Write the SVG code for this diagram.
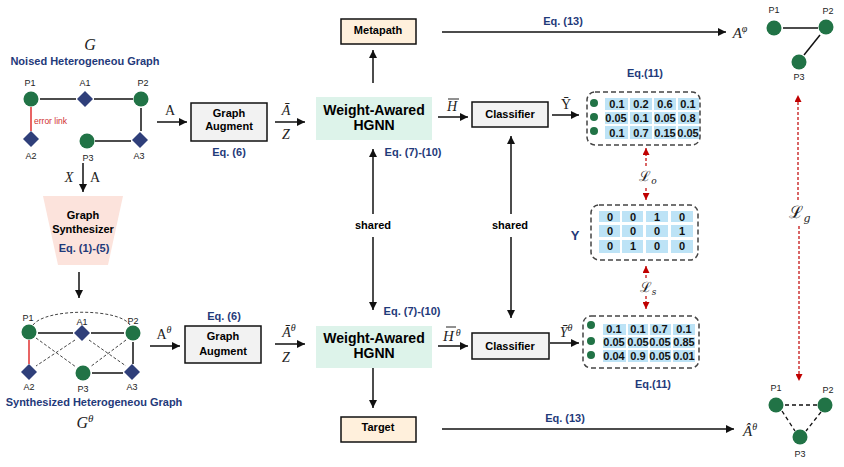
<svg xmlns="http://www.w3.org/2000/svg" width="844" height="467" viewBox="0 0 844 467">
<style>
.t{font-family:"Liberation Sans",Arial,sans-serif;font-weight:bold;fill:#000;text-anchor:middle}
.b{font-family:"Liberation Sans",Arial,sans-serif;font-weight:bold;fill:#1F3A7A;text-anchor:middle}
.lbl{font-family:"Liberation Sans",Arial,sans-serif;font-size:9px;fill:#222;text-anchor:middle}
.m{font-family:"Liberation Serif","Times New Roman",serif;font-style:italic;fill:#222;text-anchor:middle}
.mu{font-family:"Liberation Serif","Times New Roman",serif;fill:#222;text-anchor:middle}
.cal{font-family:"DejaVu Serif","Liberation Serif",serif;fill:#222;text-anchor:middle}
.c{fill:#217346}
.d{fill:#2F3F7A}
.e{stroke:#111;stroke-width:1.5;fill:none}
.ed{stroke:#444;stroke-width:1;stroke-dasharray:3 2;fill:none}
.red{stroke:#E03030;stroke-width:1.5;fill:none}
.ar{stroke:#111;stroke-width:1.5;fill:none;marker-end:url(#ah)}
.rd{stroke:#C00000;stroke-width:1.2;stroke-dasharray:3 2;fill:none}
.box{fill:#F2F2F2;stroke:#111;stroke-width:1.5}
.peach{fill:#FFF0DC;stroke:#111;stroke-width:1.5}
.hg{fill:#DDF3EA}
.dash{fill:none;stroke:#444;stroke-width:1.5;stroke-dasharray:5 3}
.cell{fill:#BDE3F6}
.mt{font-family:"Liberation Sans",Arial,sans-serif;font-weight:bold;font-size:11px;fill:#111;text-anchor:middle}
.bar{stroke:#222;stroke-width:1}
</style>
<defs>
<marker id="ah" viewBox="0 0 10 10" refX="10" refY="5" markerWidth="8" markerHeight="8" markerUnits="userSpaceOnUse" orient="auto"><path d="M0,0 L10,5 L0,10 z" fill="#111"/></marker>
<marker id="rh" viewBox="0 0 10 10" refX="10" refY="5" markerWidth="7" markerHeight="7" markerUnits="userSpaceOnUse" orient="auto"><path d="M0,0 L10,5 L0,10 z" fill="#C00000"/></marker>
</defs>

<!-- Noised graph -->
<g id="graph-G">
<text class="m" x="90" y="50" font-size="16">G</text>
<text class="b" x="85" y="65" font-size="11">Noised Heterogeneou Graph</text>
<line class="e" x1="40" y1="99" x2="76" y2="99"/>
<line class="e" x1="94" y1="99" x2="133" y2="99"/>
<line class="e" x1="141" y1="108" x2="141" y2="131"/>
<line class="e" x1="95" y1="141" x2="131" y2="141"/>
<line class="red" x1="31" y1="107" x2="31" y2="131"/>
<text x="34" y="124" font-family="Liberation Sans,Arial,sans-serif" font-size="8.5" fill="#D03030">error link</text>
<circle class="c" cx="31" cy="99" r="7.5"/>
<path class="d" d="M85,91 L93,99 L85,107 L77,99 z"/>
<circle class="c" cx="141" cy="99" r="7.5"/>
<path class="d" d="M31,131 L39,139 L31,147 L23,139 z"/>
<circle class="c" cx="87" cy="141" r="7.5"/>
<path class="d" d="M140,132 L148,140 L140,148 L132,140 z"/>
<text class="lbl" x="30" y="86">P1</text>
<text class="lbl" x="85" y="86">A1</text>
<text class="lbl" x="143" y="86">P2</text>
<text class="lbl" x="31" y="159">A2</text>
<text class="lbl" x="88" y="161">P3</text>
<text class="lbl" x="139" y="159">A3</text>
</g>

<!-- Synthesizer -->
<g id="synth">
<path d="M43,196 L123,196 L108,265 L58,265 z" fill="#FCE3DC"/>
<text class="t" x="83" y="219" font-size="11">Graph</text>
<text class="t" x="83" y="233" font-size="11">Synthesizer</text>
<text class="b" x="84" y="252" font-size="11">Eq. (1)-(5)</text>
</g>

<!-- Synthesized graph -->
<g id="graph-Gtheta">
<path class="ed" d="M33,325 C45,308 120,308 130,325"/>
<line class="ed" x1="36" y1="338" x2="76" y2="367"/>
<line class="ed" x1="75" y1="340" x2="36" y2="366"/>
<line class="ed" x1="89" y1="340" x2="126" y2="366"/>
<line class="ed" x1="126" y1="340" x2="90" y2="367"/>
<line class="e" x1="38" y1="333" x2="73" y2="333"/>
<line class="e" x1="91" y1="333" x2="124" y2="333"/>
<line class="e" x1="133" y1="342" x2="133" y2="364"/>
<line class="e" x1="92" y1="373" x2="123" y2="373"/>
<line class="red" x1="29" y1="340" x2="29" y2="364"/>
<circle class="c" cx="29" cy="332" r="7.5"/>
<path class="d" d="M82,325 L90,333 L82,341 L74,333 z"/>
<circle class="c" cx="133" cy="333" r="7.5"/>
<path class="d" d="M29,364 L37,372 L29,380 L21,372 z"/>
<circle class="c" cx="83" cy="373" r="7.5"/>
<path class="d" d="M132,364 L140,372 L132,380 L124,372 z"/>
<text class="lbl" x="28" y="321">P1</text>
<text class="lbl" x="82" y="325">A1</text>
<text class="lbl" x="133" y="324">P2</text>
<text class="lbl" x="29" y="390">A2</text>
<text class="lbl" x="83" y="392">P3</text>
<text class="lbl" x="132" y="390">A3</text>
<text class="b" x="94" y="406" font-size="11">Synthesized Heterogeneou Graph</text>
<text class="m" x="85" y="428" font-size="16">G<tspan dy="-6" font-size="11">θ</tspan></text>
</g>

<!-- Top pipeline -->
<g id="augment-top">
<rect class="box" x="191" y="103" width="76" height="38"/>
<text class="t" x="229" y="117" font-size="11">Graph</text>
<text class="t" x="229" y="130" font-size="11">Augment</text>
<text class="b" x="229" y="156" font-size="11">Eq. (6)</text>
</g>
<g id="hgnn-top">
<rect class="hg" x="316" y="97" width="116" height="43"/>
<text class="t" x="374" y="115" font-size="14">Weight-Awared</text>
<text class="t" x="374" y="130" font-size="14">HGNN</text>
</g>
<g id="metapath">
<rect class="peach" x="341" y="19" width="75" height="25"/>
<text class="t" x="378" y="34" font-size="11">Metapath</text>
</g>
<g id="classifier-top">
<rect class="box" x="472" y="102" width="76" height="25"/>
<text class="t" x="510" y="118" font-size="11">Classifier</text>
</g>
<g id="pred-top">
<text class="b" x="645" y="77" font-size="11">Eq.(11)</text>
<rect class="dash" x="587" y="92" width="113" height="53" rx="8"/>
<circle class="c" cx="594" cy="103" r="4"/>
<circle class="c" cx="594" cy="117" r="4"/>
<circle class="c" cx="594" cy="131" r="4"/>
<g class="cell">
<rect x="605" y="98" width="23" height="12"/><rect x="630" y="98" width="22" height="12"/><rect x="654" y="98" width="22" height="12"/><rect x="678" y="98" width="21" height="12"/>
<rect x="605" y="112" width="23" height="12"/><rect x="630" y="112" width="22" height="12"/><rect x="654" y="112" width="22" height="12"/><rect x="678" y="112" width="21" height="12"/>
<rect x="605" y="126" width="23" height="13"/><rect x="630" y="126" width="22" height="13"/><rect x="654" y="126" width="22" height="13"/><rect x="678" y="126" width="21" height="13"/>
</g>
<text class="mt" x="617" y="108">0.1</text><text class="mt" x="641" y="108">0.2</text><text class="mt" x="665" y="108">0.6</text><text class="mt" x="688" y="108">0.1</text>
<text class="mt" x="616" y="122">0.05</text><text class="mt" x="641" y="122">0.1</text><text class="mt" x="665" y="122">0.05</text><text class="mt" x="688" y="122">0.8</text>
<text class="mt" x="617" y="137">0.1</text><text class="mt" x="641" y="137">0.7</text><text class="mt" x="665" y="137">0.15</text><text class="mt" x="688" y="137">0.05</text>
</g>

<!-- Y ground truth -->
<g id="labels-Y">
<text class="b" x="575" y="240" font-size="13">Y</text>
<rect class="dash" x="591" y="205" width="107" height="55" rx="8"/>
<g class="cell">
<rect x="599" y="211" width="21" height="11"/><rect x="622" y="211" width="21" height="11"/><rect x="646" y="211" width="22" height="11"/><rect x="671" y="211" width="22" height="11"/>
<rect x="599" y="225" width="21" height="12"/><rect x="622" y="225" width="21" height="12"/><rect x="646" y="225" width="22" height="12"/><rect x="671" y="225" width="22" height="12"/>
<rect x="599" y="240" width="21" height="13"/><rect x="622" y="240" width="21" height="13"/><rect x="646" y="240" width="22" height="13"/><rect x="671" y="240" width="22" height="13"/>
</g>
<text class="mt" x="610" y="221">0</text><text class="mt" x="633" y="221">0</text><text class="mt" x="657" y="221">1</text><text class="mt" x="682" y="221">0</text>
<text class="mt" x="610" y="235">0</text><text class="mt" x="633" y="235">0</text><text class="mt" x="657" y="235">0</text><text class="mt" x="682" y="235">1</text>
<text class="mt" x="610" y="250">0</text><text class="mt" x="633" y="250">1</text><text class="mt" x="657" y="250">0</text><text class="mt" x="682" y="250">0</text>
</g>

<!-- Bottom pipeline -->
<g id="augment-bottom">
<rect class="box" x="185" y="326" width="76" height="37"/>
<text class="t" x="223" y="340" font-size="11">Graph</text>
<text class="t" x="223" y="355" font-size="11">Augment</text>
<text class="b" x="224" y="320" font-size="11">Eq. (6)</text>
</g>
<g id="hgnn-bottom">
<rect class="hg" x="316" y="326" width="116" height="42"/>
<text class="t" x="374" y="343" font-size="14">Weight-Awared</text>
<text class="t" x="374" y="358" font-size="14">HGNN</text>
</g>
<g id="target">
<rect class="peach" x="341" y="417" width="75" height="25"/>
<text class="t" x="378" y="431" font-size="11">Target</text>
</g>
<g id="classifier-bottom">
<rect class="box" x="472" y="333" width="77" height="26"/>
<text class="t" x="510" y="350" font-size="11">Classifier</text>
</g>
<g id="pred-bottom">
<rect class="dash" x="583" y="316" width="116" height="52" rx="8"/>
<circle class="c" cx="591" cy="325" r="4"/>
<circle class="c" cx="591" cy="341" r="4"/>
<circle class="c" cx="591" cy="355" r="4"/>
<g class="cell">
<rect x="603" y="324" width="23" height="11"/><rect x="628" y="324" width="20" height="11"/><rect x="650" y="324" width="21" height="11"/><rect x="673" y="324" width="22" height="11"/>
<rect x="603" y="337" width="23" height="11"/><rect x="628" y="337" width="20" height="11"/><rect x="650" y="337" width="21" height="11"/><rect x="673" y="337" width="22" height="11"/>
<rect x="603" y="350" width="23" height="12"/><rect x="628" y="350" width="20" height="12"/><rect x="650" y="350" width="21" height="12"/><rect x="673" y="350" width="22" height="12"/>
</g>
<text class="mt" x="614" y="333">0.1</text><text class="mt" x="638" y="333">0.1</text><text class="mt" x="660" y="333">0.7</text><text class="mt" x="684" y="333">0.1</text>
<text class="mt" x="614" y="346">0.05</text><text class="mt" x="638" y="346">0.05</text><text class="mt" x="660" y="346">0.05</text><text class="mt" x="684" y="346">0.85</text>
<text class="mt" x="614" y="360">0.04</text><text class="mt" x="638" y="360">0.9</text><text class="mt" x="660" y="360">0.05</text><text class="mt" x="684" y="360">0.01</text>
<text class="b" x="653" y="388" font-size="11">Eq.(11)</text>
</g>

<!-- Right graphs -->
<g id="graph-Aphi">
<line class="e" x1="783" y1="28" x2="818" y2="28"/>
<line class="e" x1="820" y1="35" x2="804" y2="55"/>
<circle class="c" cx="774" cy="28" r="7.5"/>
<circle class="c" cx="826" cy="27" r="7.5"/>
<circle class="c" cx="799" cy="62" r="7.5"/>
<text class="lbl" x="774" y="13">P1</text>
<text class="lbl" x="828" y="14">P2</text>
<text class="lbl" x="799" y="80">P3</text>
</g>
<g id="graph-Ahat">
<line x1="785" y1="405" x2="818" y2="405" stroke="#111" stroke-width="1.3" stroke-dasharray="4 3"/>
<line x1="782" y1="411" x2="795" y2="431" stroke="#111" stroke-width="1.3" stroke-dasharray="4 3"/>
<line x1="821" y1="412" x2="806" y2="431" stroke="#111" stroke-width="1.3" stroke-dasharray="4 3"/>
<circle class="c" cx="776" cy="405" r="7.5"/>
<circle class="c" cx="825" cy="405" r="7.5"/>
<circle class="c" cx="800" cy="437" r="7.5"/>
<text class="lbl" x="776" y="391">P1</text>
<text class="lbl" x="828" y="393">P2</text>
<text class="lbl" x="800" y="457">P3</text>
</g>

<!-- Connectors -->
<g id="connectors">
<line class="ar" x1="83" y1="163" x2="83" y2="192"/>
<text class="m" x="69" y="182" font-size="14">X</text>
<text class="mu" x="95" y="182" font-size="14">A</text>
<line class="ar" x1="79" y1="272" x2="79" y2="298"/>

<line class="ar" x1="157" y1="122" x2="187" y2="122"/>
<text class="mu" x="170" y="115" font-size="14">A</text>
<line class="ar" x1="275" y1="122" x2="305" y2="122"/>
<text class="m" x="286" y="115" font-size="14">Ā</text>
<text class="m" x="286" y="139" font-size="14">Z</text>
<line class="ar" x1="373" y1="83" x2="373" y2="50"/>
<line class="ar" x1="438" y1="117" x2="468" y2="117"/>
<text class="m" x="452" y="111" font-size="14">H</text>
<line class="bar" x1="448" y1="99" x2="459" y2="99"/>
<line class="ar" x1="552" y1="115" x2="579" y2="115"/>
<text class="mu" x="566" y="109" font-size="14">Ȳ</text>

<line class="ar" x1="373" y1="214" x2="373" y2="149"/>
<text class="b" x="413" y="156" font-size="11">Eq. (7)-(10)</text>
<text class="t" x="373" y="229" font-size="11">shared</text>
<line class="ar" x1="373" y1="237" x2="373" y2="310"/>
<text class="b" x="412" y="315" font-size="11">Eq. (7)-(10)</text>
<line class="ar" x1="511" y1="214" x2="511" y2="136"/>
<text class="t" x="510" y="229" font-size="11">shared</text>
<line class="ar" x1="511" y1="237" x2="511" y2="318"/>

<line class="ar" x1="150" y1="346" x2="180" y2="346"/>
<text class="mu" x="164" y="339" font-size="14">A<tspan dy="-6" font-size="10" font-style="italic">θ</tspan></text>
<line class="ar" x1="275" y1="344" x2="305" y2="344"/>
<text class="m" x="289" y="337" font-size="14">Ā<tspan dy="-6" font-size="10">θ</tspan></text>
<text class="m" x="286" y="362" font-size="14">Z</text>
<line class="ar" x1="438" y1="346" x2="468" y2="346"/>
<text class="m" x="443" y="341" font-size="15" style="text-anchor:start">H<tspan dx="2" dy="-5" font-size="10">θ</tspan></text>
<line class="bar" x1="446" y1="327" x2="456" y2="327"/>
<line class="ar" x1="550" y1="343" x2="579" y2="343"/>
<text class="m" x="566" y="337" font-size="14">Ȳ<tspan dy="-6" font-size="10">θ</tspan></text>

<line class="ar" x1="373" y1="368" x2="373" y2="408"/>
<line class="ar" x1="442" y1="32" x2="726" y2="32"/>
<text class="b" x="563" y="25" font-size="11">Eq. (13)</text>
<text class="m" x="740" y="38" font-size="15">A<tspan dy="-6" font-size="10">φ</tspan></text>
<line class="ar" x1="442" y1="429" x2="734" y2="429"/>
<text class="b" x="565" y="422" font-size="11">Eq. (13)</text>
<text class="m" x="750" y="436" font-size="15">Â<tspan dy="-6" font-size="10">θ</tspan></text>

<line class="rd" x1="646" y1="166" x2="646" y2="148" marker-end="url(#rh)"/>
<line class="rd" x1="646" y1="188" x2="646" y2="200" marker-end="url(#rh)"/>
<text class="cal" x="648" y="181" font-size="14">ℒ<tspan dy="3" font-size="9" font-style="italic">o</tspan></text>
<line class="rd" x1="646" y1="278" x2="646" y2="266" marker-end="url(#rh)"/>
<line class="rd" x1="646" y1="296" x2="646" y2="309" marker-end="url(#rh)"/>
<text class="cal" x="648" y="292" font-size="14">ℒ<tspan dy="3" font-size="9" font-style="italic">s</tspan></text>
<line class="rd" x1="798" y1="200" x2="798" y2="95" marker-end="url(#rh)"/>
<line class="rd" x1="799" y1="226" x2="799" y2="381" marker-end="url(#rh)"/>
<text class="cal" x="800" y="218" font-size="17">ℒ<tspan dy="4" font-size="11" font-style="italic">g</tspan></text>
</g>
</svg>
